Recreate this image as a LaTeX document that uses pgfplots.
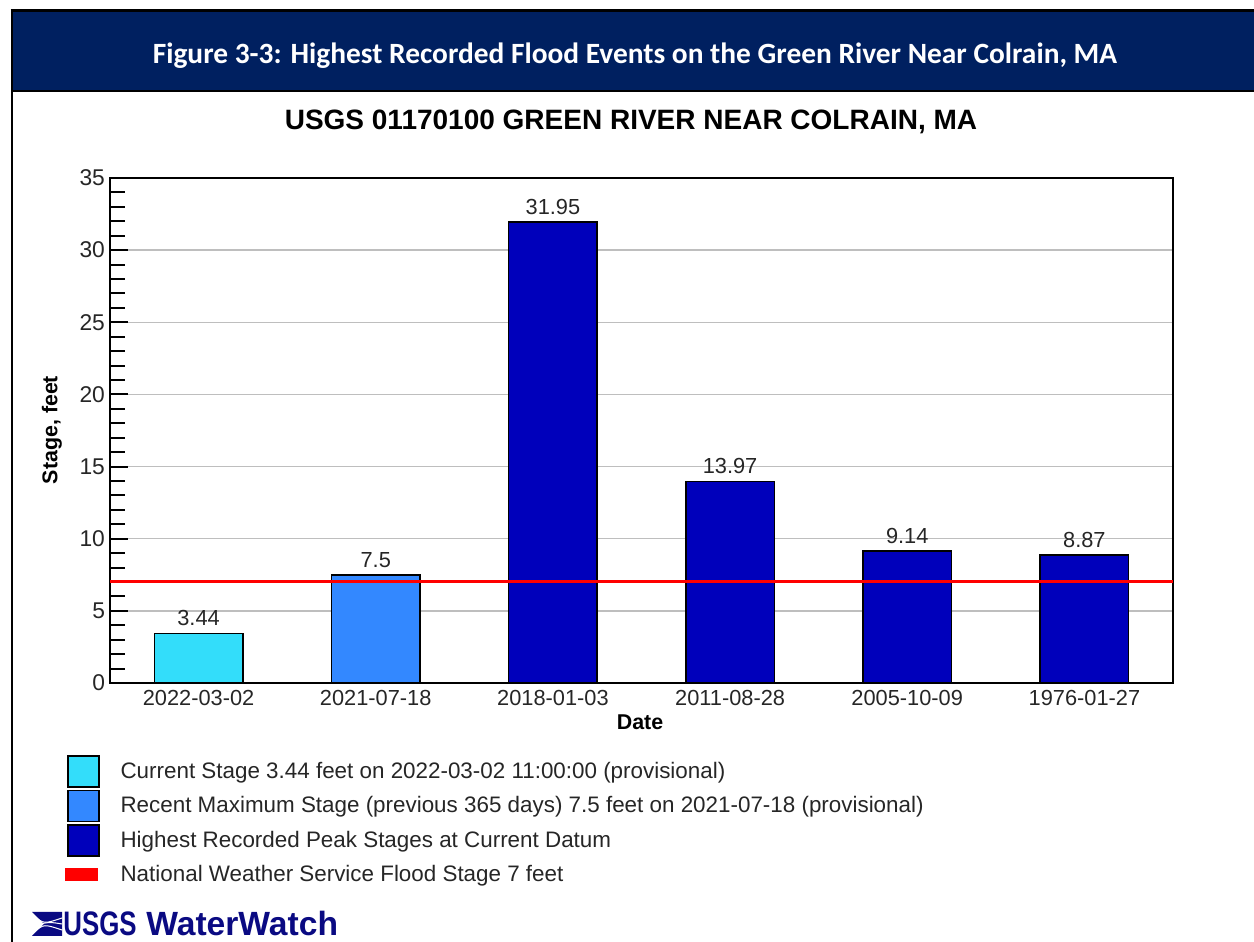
\documentclass[border=0pt]{standalone}
\usepackage{pgfplots}
\pgfplotsset{compat=1.18}
\usepackage{fontspec}
\setmainfont{Liberation Sans}
\newfontfamily\calibri{Carlito}
\definecolor{cCur}{RGB}{51,221,250}
\definecolor{cRec}{RGB}{51,136,255}
\definecolor{cHigh}{RGB}{0,0,187}
\definecolor{cHead}{RGB}{0,32,96}
\definecolor{cLogo}{RGB}{10,10,130}
\definecolor{cGrid}{RGB}{190,190,190}
\begin{document}
\begin{tikzpicture}
\useasboundingbox (0pt,0pt) rectangle (627pt,471pt);
% header band
\fill[cHead] (6pt,425.5pt) rectangle (627pt,465pt);
\draw[black, line width=1.5pt] (5.25pt,465.5pt) -- (627pt,465.5pt);
\draw[black, line width=0.75pt] (6pt,425.5pt) -- (627pt,425.5pt);
\draw[black, line width=1.2pt] (6pt,466pt) -- (6pt,0pt);
\node[text=white, font=\calibri\bfseries\fontsize{14.7}{17}\selectfont] at (317.5pt,443pt) {Figure 3-3: Highest Recorded Flood Events on the Green River Near Colrain, MA};
% chart title
\node[font=\bfseries\fontsize{14}{16}\selectfont] at (315.5pt,410pt) {USGS 01170100 GREEN RIVER NEAR COLRAIN, MA};
\begin{axis}[
  at={(55pt,129.5pt)}, anchor=south west,
  scale only axis, width=531.5pt, height=252.5pt,
  xmin=-0.5, xmax=5.5, ymin=0, ymax=35,
  xtick={0,1,2,3,4,5},
  xticklabels={2022-03-02,2021-07-18,2018-01-03,2011-08-28,2005-10-09,1976-01-27},
  x tick style={draw=none},
  ytick={0,5,10,15,20,25,30,35},
  minor y tick num=4,
  ytick pos=left,
  tick align=inside,
  major tick length=9pt, minor tick length=7.5pt,
  y tick style={black, line width=1pt},
  axis line style={black, line width=1pt},
  ymajorgrids, grid style={cGrid, line width=0.75pt},
  /pgf/number format/assume math mode=true,
  ticklabel style={font=\fontsize{10.9}{12.8}\selectfont, text=black!85},
  yticklabel style={xshift=1pt, font=\fontsize{11.4}{12.8}\selectfont},
  xlabel={Date}, ylabel={Stage, feet},
  label style={font=\bfseries\fontsize{10.7}{12.8}\selectfont},
  xlabel style={at={(axis description cs:0.4986,-0.0772)}, anchor=center},
  ylabel style={at={(axis description cs:-0.0546,0.501)}, anchor=center},
  bars/.style={ybar, bar width=0.5, bar shift=0pt, draw=black, line width=0.75pt,
    nodes near coords,
    every node near coord/.append style={font=\fontsize{10.9}{12.8}\selectfont, text=black!85}},
  legend style={at={(axis description cs:-0.0424,-0.1426)}, anchor=north west,
    draw=none, fill=none, inner sep=0pt, row sep=1pt, column sep=10.5pt,
    font=\fontsize{11.2}{12.8}\selectfont, text=black!85,
    nodes={inner sep=0pt}},
  legend cell align=left,
]
\addplot[bars, fill=cCur,
  legend image code/.code={\draw[fill=cCur, draw=black, line width=0.75pt] (0pt,-7.75pt) rectangle (15.5pt,7.75pt);}]
  coordinates {(0,3.44)};
\addlegendentry{Current Stage 3.44 feet on 2022-03-02 11:00:00 (provisional)}
\addplot[bars, fill=cRec,
  legend image code/.code={\draw[fill=cRec, draw=black, line width=0.75pt] (0pt,-7.75pt) rectangle (15.5pt,7.75pt);}]
  coordinates {(1,7.5)};
\addlegendentry{Recent Maximum Stage (previous 365 days) 7.5 feet on 2021-07-18 (provisional)}
\addplot[bars, fill=cHigh,
  legend image code/.code={\draw[fill=cHigh, draw=black, line width=0.75pt] (0pt,-7.75pt) rectangle (15.5pt,7.75pt);}]
  coordinates {(2,31.95) (3,13.97) (4,9.14) (5,8.87)};
\addlegendentry{Highest Recorded Peak Stages at Current Datum}
\addplot[red, line width=1.5pt,
  legend image code/.code={\path[draw=none, fill=none] (0pt,-7.75pt) rectangle (15.5pt,7.75pt); \fill[red] (-0.5pt,-2.7pt) rectangle (14.5pt,2.3pt);}]
  coordinates {(-0.5,7) (5.5,7)};
\addlegendentry{National Weather Service Flood Stage 7 feet}
\end{axis}
% logo
\begin{scope}
\fill[cLogo] (16pt,3pt) -- (31pt,3pt) -- (31pt,15pt) -- (16pt,15pt) -- (22pt,9pt) -- cycle;
\draw[white, line width=0.5pt] (17pt,5pt) .. controls (22pt,9pt) .. (31pt,6pt);
\draw[white, line width=0.5pt] (17pt,13pt) .. controls (22pt,9pt) .. (31pt,12pt);
\draw[white, line width=0.5pt] (20pt,9pt) .. controls (25pt,10pt) .. (31pt,9pt);
\end{scope}
\node[anchor=base west, inner sep=0pt, text=cLogo, font=\bfseries\fontsize{17}{19}\selectfont] at (31.5pt,3pt) {\scalebox{0.76}[1]{USGS}};
\node[anchor=base west, inner sep=0pt, text=cLogo, font=\bfseries\fontsize{16.8}{19}\selectfont] at (73pt,3pt) {WaterWatch};
\end{tikzpicture}
\end{document}
